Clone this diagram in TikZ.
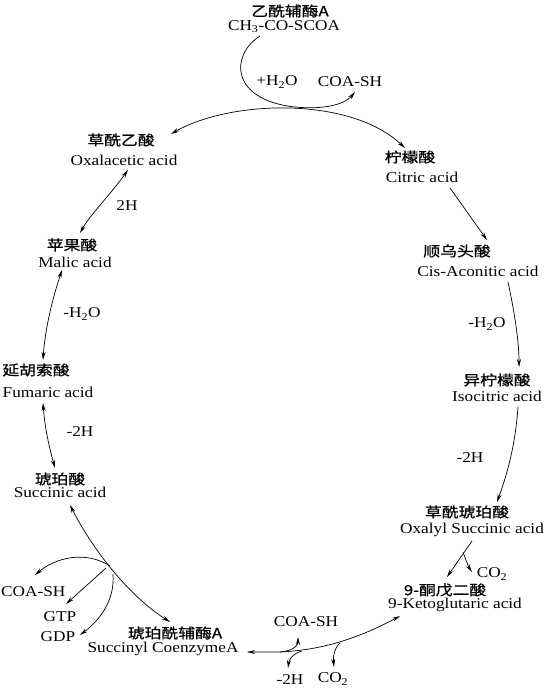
\documentclass[tikz,border=0pt]{standalone}
\usepackage{fontspec}
\setmainfont{Liberation Serif}[FakeStretch=1.15]
\newfontfamily\cjk{Noto Sans CJK SC}[FakeStretch=1.2,FakeBold=0.8]
\usetikzlibrary{arrows.meta}
\begin{document}
\begin{tikzpicture}[x=1pt,y=-1pt,
  cn/.style={font=\cjk\fontsize{14}{14}\selectfont, inner sep=0pt},
  en/.style={font=\fontsize{15}{15}\selectfont, inner sep=0pt},
  conn/.style={line width=0.7pt},
  tip/.style={conn,-{Stealth[length=8pt,width=4pt]}},
  both/.style={conn,{Stealth[length=8pt,width=4pt]}-{Stealth[length=8pt,width=4pt]}}]
\useasboundingbox (0,0) rectangle (544,688);
% labels
\node[cn] (acetylCN) at (290,11) {乙酰辅酶A};
\node[en] (acetylEN) at (284,27) {CH\textsubscript{3}-CO-SCOA};
\node[en] (h2oTop) at (277,82) {+H\textsubscript{2}O};
\node[en] (coaTop) at (350,82) {COA-SH};
\node[cn] (oxaCN) at (121,140) {草酰乙酸};
\node[en] (oxaEN) at (124,160) {Oxalacetic acid};
\node[cn] (citCN) at (410,157) {柠檬酸};
\node[en] (citEN) at (422,177) {Citric acid};
\node[en] (h2a) at (127,206) {2H};
\node[cn] (malCN) at (72,245) {苹果酸};
\node[en] (malEN) at (75,262) {Malic acid};
\node[cn] (cisCN) at (457,251) {顺乌头酸};
\node[en] (cisEN) at (478,271) {Cis-Aconitic acid};
\node[en] (h2oL) at (82,314) {-H\textsubscript{2}O};
\node[en] (h2oR) at (487,324) {-H\textsubscript{2}O};
\node[cn] (fumCN) at (36,370) {延胡索酸};
\node[en] (fumEN) at (48,392) {Fumaric acid};
\node[cn] (isoCN) at (497,380) {异柠檬酸};
\node[en] (isoEN) at (497,396) {Isocitric acid};
\node[en] (m2hL) at (80,432) {-2H};
\node[en] (m2hR) at (470,458) {-2H};
\node[cn] (sucCN) at (60,479) {琥珀酸};
\node[en] (sucEN) at (60,492) {Succinic acid};
\node[cn] (oxsCN) at (467,512) {草酰琥珀酸};
\node[en] (oxsEN) at (472,530) {Oxalyl Succinic acid};
\node[en] (co2R) at (492,574) {CO\textsubscript{2}};
\node[cn] (ketCN) at (445,590) {9-酮戊二酸};
\node[en] (ketEN) at (455,605) {9-Ketoglutaric acid};
\node[en] (coaB) at (306,622) {COA-SH};
\node[cn] (scoCN) at (175,633) {琥珀酰辅酶A};
\node[en] (scoEN) at (163,649) {Succinyl CoenzymeA};
\node[en] (m2hB) at (290,680) {-2H};
\node[en] (co2B) at (333,679) {CO\textsubscript{2}};
\node[en,anchor=west] (coaL) at (1,592) {COA-SH};
\node[en] (gtp) at (60,617) {GTP};
\node[en] (gdp) at (58,637) {GDP};
% endpoints
\coordinate (aStart) at (260,36);
\coordinate (aMid) at (295,107);
\coordinate (aEnd) at (355,92);
\coordinate (pOxaT) at (171,134);
\coordinate (pCitT) at (405,148);
\coordinate (pCitB) at (450,188);
\coordinate (pCisT) at (487,240);
\coordinate (pCisB) at (508,282);
\coordinate (pIsoT) at (519,367);
\coordinate (pIsoB) at (518,407);
\coordinate (pOxsT) at (497,502);
\coordinate (pOxsB) at (472,541);
\coordinate (pKetT) at (447,577);
\coordinate (jCO2R) at (463,552);
\coordinate (pCO2R) at (472,572);
\coordinate (pKetB) at (400,616);
\coordinate (jB1) at (280,652);
\coordinate (jB2) at (302,651);
\coordinate (jB3) at (340,643);
\coordinate (pScoR) at (247,652);
\coordinate (pCoaB) at (298,637);
\coordinate (pM2hB) at (288,668);
\coordinate (pCO2B) at (334,667);
\coordinate (pScoT) at (170,622);
\coordinate (pSucB) at (70,505);
\coordinate (jL) at (110,566);
\coordinate (jL2) at (106,568);
\coordinate (jL3) at (113,574);
\coordinate (pCoaL) at (35,575);
\coordinate (pGtp) at (66,604);
\coordinate (pGdp) at (80,635);
\coordinate (pOxaB) at (128,170);
\coordinate (pMalT) at (80,233);
\coordinate (pMalB) at (62,270);
\coordinate (pFumT) at (43,360);
\coordinate (pFumB) at (43,403);
\coordinate (pSucT) at (55,468);
% connectors
\draw[both] (pOxaT) .. controls (230,100) and (350,96) .. (pCitT);
\draw[tip] (aStart) .. controls (230,55) and (230,100) .. (aMid) .. controls (325,110) and (345,104) .. (aEnd);
\draw[tip] (pCitB) -- (pCisT);
\draw[tip] (pCisB) .. controls (514,310) and (519,340) .. (pIsoT);
\draw[tip] (pIsoB) .. controls (515,450) and (505,480) .. (pOxsT);
\draw[tip] (pOxsB) -- (pKetT);
\draw[tip] (jCO2R) .. controls (466,560) and (468,566) .. (pCO2R);
\draw[both] (pKetB) .. controls (355,640) and (320,650) .. (jB1) -- (pScoR);
\draw[tip] (jB1) .. controls (292,651) and (298,646) .. (pCoaB);
\draw[tip] (jB2) .. controls (292,654) and (289,660) .. (pM2hB);
\draw[tip] (jB3) .. controls (334,648) and (333,658) .. (pCO2B);
\draw[both] (pSucB) .. controls (85,535) and (120,590) .. (pScoT);
\draw[tip] (jL) .. controls (85,550) and (55,558) .. (pCoaL);
\draw[tip] (jL2) -- (pGtp);
\draw[tip] (jL3) .. controls (115,600) and (100,620) .. (pGdp);
\draw[both] (pOxaB) .. controls (110,195) and (90,215) .. (pMalT);
\draw[both] (pMalB) .. controls (52,300) and (45,330) .. (pFumT);
\draw[both] (pFumB) .. controls (45,430) and (50,450) .. (pSucT);
\end{tikzpicture}
\end{document}
